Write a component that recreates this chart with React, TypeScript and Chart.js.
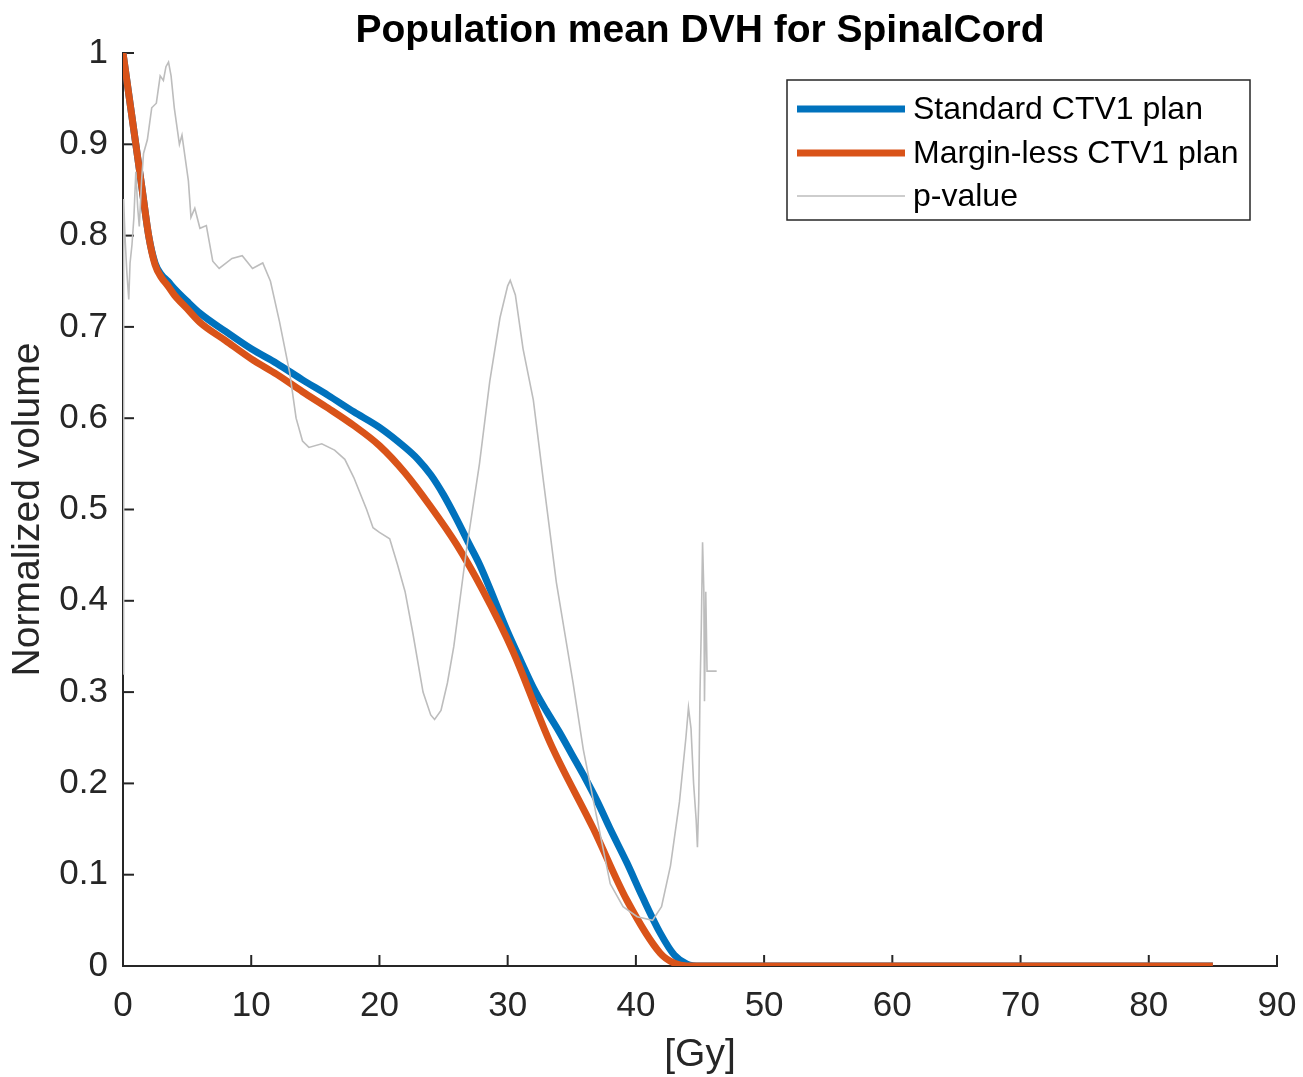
import React, { useEffect, useRef } from "react";
import { Chart, registerables } from "chart.js";

Chart.register(...registerables);

const chartTitle = "Population mean DVH for SpinalCord";
const xAxisTitle = "[Gy]";
const yAxisTitle = "Normalized volume";
const seriesNames = ["Standard CTV1 plan", "Margin-less CTV1 plan", "p-value"];
const seriesColors = ["#0072BD", "#D95319", "#bdbdbd"];

const xTicks = [0, 10, 20, 30, 40, 50, 60, 70, 80, 90];
const yTicks = [0, 0.1, 0.2, 0.3, 0.4, 0.5, 0.6, 0.7, 0.8, 0.9, 1];

const doseStandard = [0, 0.5, 1, 1.5, 2, 2.5, 3, 3.5, 4, 5, 6, 8, 10, 12, 14, 16, 18, 20, 22, 23, 24, 25, 26, 27, 27.8, 30, 31, 32, 33, 34, 35, 36, 37, 38, 39.3, 40.5, 41.9, 43, 44, 45, 50, 60, 70, 85];
const volStandard = [1, 0.95, 0.9, 0.85, 0.8, 0.77, 0.757, 0.75, 0.742, 0.728, 0.715, 0.695, 0.676, 0.66, 0.642, 0.625, 0.607, 0.59, 0.568, 0.555, 0.538, 0.516, 0.49, 0.462, 0.44, 0.366, 0.335, 0.305, 0.28, 0.257, 0.232, 0.207, 0.18, 0.15, 0.113, 0.076, 0.036, 0.012, 0.002, 0, 0, 0, 0, 0];

const doseMarginless = [0, 0.5, 1, 1.5, 2, 2.5, 3, 3.5, 4, 5, 6, 8, 10, 12, 14, 16, 18, 20, 22, 24, 26, 28, 30.4, 33.3, 36.7, 39.3, 41.9, 43, 44, 45, 50, 60, 70, 85];
const volMarginless = [1, 0.95, 0.9, 0.85, 0.8, 0.768, 0.754, 0.745, 0.735, 0.72, 0.705, 0.685, 0.665, 0.648, 0.629, 0.611, 0.592, 0.57, 0.54, 0.503, 0.462, 0.413, 0.345, 0.245, 0.15, 0.072, 0.014, 0.003, 0, 0, 0, 0, 0, 0];

const dosePValue = [0, 0.05, 0.15, 0.3, 0.45, 0.55, 0.7, 0.85, 1.0, 1.15, 1.27, 1.45, 1.6, 1.9, 2.24, 2.6, 2.9, 3.15, 3.35, 3.55, 3.75, 4.0, 4.4, 4.6, 5.1, 5.3, 5.6, 6.0, 6.5, 7.0, 7.5, 8.5, 9.3, 10.1, 10.9, 11.5, 12.2, 13.0, 13.5, 14.0, 14.5, 15.5, 16.5, 17.3, 18.0, 19.0, 19.5, 20.0, 20.8, 21.4, 22.0, 22.6, 23.4, 24.0, 24.3, 24.8, 25.3, 25.8, 26.8, 27.8, 28.6, 29.4, 30.0, 30.2, 30.6, 31.2, 32.0, 32.8, 33.8, 35.1, 35.9, 36.7, 38.0, 39.0, 40.1, 41.3, 42.0, 42.7, 43.4, 43.9, 44.1, 44.3, 44.5, 44.7, 44.8, 44.9, 45.0, 45.1, 45.2, 45.3, 45.35, 45.45, 45.55, 46.3];
const pValue = [0.32, 0.84, 0.8, 0.76, 0.73, 0.77, 0.79, 0.82, 0.87, 0.83, 0.81, 0.86, 0.89, 0.905, 0.94, 0.945, 0.975, 0.97, 0.985, 0.99, 0.975, 0.94, 0.9, 0.91, 0.86, 0.82, 0.83, 0.808, 0.811, 0.772, 0.764, 0.775, 0.778, 0.764, 0.77, 0.75, 0.706, 0.65, 0.6, 0.575, 0.568, 0.572, 0.565, 0.555, 0.535, 0.5, 0.48, 0.475, 0.468, 0.44, 0.41, 0.365, 0.3, 0.275, 0.27, 0.28, 0.31, 0.35, 0.457, 0.55, 0.64, 0.71, 0.745, 0.751, 0.735, 0.676, 0.62, 0.53, 0.42, 0.31, 0.237, 0.18, 0.09, 0.065, 0.054, 0.05, 0.065, 0.11, 0.18, 0.25, 0.283, 0.26, 0.2, 0.16, 0.13, 0.18, 0.3, 0.37, 0.464, 0.41, 0.29, 0.41, 0.323, 0.323];

const FONT = "'Liberation Sans', Arial, Helvetica, sans-serif";
const AXIS_COLOR = "#262626";

const toPoints = (xs: number[], ys: number[]) => xs.map((x, i) => ({ x, y: ys[i] }));

const inwardTicks = {
  id: "inwardTicks",
  beforeDatasetsDraw(chart: any) {
    const { ctx, chartArea, scales } = chart;
    ctx.save();
    ctx.strokeStyle = AXIS_COLOR;
    ctx.lineWidth = 2;
    const len = 11;
    scales.x.ticks.forEach((t: any) => {
      const px = scales.x.getPixelForValue(t.value);
      ctx.beginPath();
      ctx.moveTo(px, chartArea.bottom);
      ctx.lineTo(px, chartArea.bottom - len);
      ctx.stroke();
    });
    scales.y.ticks.forEach((t: any) => {
      const py = scales.y.getPixelForValue(t.value);
      ctx.beginPath();
      ctx.moveTo(chartArea.left, py);
      ctx.lineTo(chartArea.left + len, py);
      ctx.stroke();
    });
    ctx.restore();
  },
};

const axesTitle = {
  id: "axesTitle",
  afterDraw(chart: any) {
    const { ctx, chartArea } = chart;
    ctx.save();
    ctx.fillStyle = "#000000";
    ctx.font = `bold 39px ${FONT}`;
    ctx.textAlign = "center";
    ctx.textBaseline = "middle";
    ctx.fillText(chartTitle, (chartArea.left + chartArea.right) / 2, 31);
    ctx.restore();
  },
};

const boxLegend = {
  id: "boxLegend",
  afterDraw(chart: any) {
    const { ctx } = chart;
    const x0 = 787, y0 = 80, w = 463, h = 140;
    ctx.save();
    ctx.fillStyle = "#ffffff";
    ctx.fillRect(x0, y0, w, h);
    ctx.strokeStyle = AXIS_COLOR;
    ctx.lineWidth = 1.5;
    ctx.strokeRect(x0, y0, w, h);
    const rows = [109, 153, 196];
    chart.data.datasets.forEach((ds: any, i: number) => {
      const y = rows[i];
      ctx.strokeStyle = ds.borderColor;
      ctx.lineWidth = ds.borderWidth;
      ctx.beginPath();
      ctx.moveTo(797, y);
      ctx.lineTo(905, y);
      ctx.stroke();
      ctx.fillStyle = "#000000";
      ctx.font = `32px ${FONT}`;
      ctx.textBaseline = "middle";
      ctx.textAlign = "left";
      ctx.fillText(ds.label, 913, y + 1);
    });
    ctx.restore();
  },
};

export default function App() {
  const canvasRef = useRef<HTMLCanvasElement | null>(null);

  useEffect(() => {
    const canvas = canvasRef.current;
    if (!canvas) return;
    const chart = new Chart(canvas, {
      type: "line",
      data: {
        datasets: [
          {
            label: seriesNames[0],
            data: toPoints(doseStandard, volStandard),
            borderColor: seriesColors[0],
            borderWidth: 7,
            pointRadius: 0,
            cubicInterpolationMode: "monotone",
            fill: false,
            order: 3,
          },
          {
            label: seriesNames[1],
            data: toPoints(doseMarginless, volMarginless),
            borderColor: seriesColors[1],
            borderWidth: 7,
            pointRadius: 0,
            cubicInterpolationMode: "monotone",
            fill: false,
            order: 2,
          },
          {
            label: seriesNames[2],
            data: toPoints(dosePValue, pValue),
            borderColor: seriesColors[2],
            borderWidth: 1.6,
            pointRadius: 0,
            tension: 0,
            fill: false,
            order: 1,
          },
        ],
      } as any,
      options: {
        responsive: false,
        animation: false,
        devicePixelRatio: 1,
        layout: { padding: { top: 53, right: 26, bottom: 0, left: 0 } },
        plugins: {
          legend: { display: false },
          tooltip: { enabled: false },
          title: { display: false },
        },
        scales: {
          x: {
            type: "linear",
            min: 0,
            max: 90,
            afterBuildTicks: (scale: any) => {
              scale.ticks = xTicks.map((v) => ({ value: v }));
            },
            afterFit: (scale: any) => {
              scale.height = 111;
              scale.paddingLeft = 0;
              scale.paddingRight = 0;
            },
            grid: { display: false, drawTicks: false },
            border: { display: true, color: AXIS_COLOR, width: 2 },
            ticks: {
              color: AXIS_COLOR,
              font: { family: FONT, size: 35 },
              padding: 19,
              maxRotation: 0,
              autoSkip: false,
              callback: (v: any) => String(v),
            },
            title: {
              display: true,
              text: xAxisTitle,
              color: AXIS_COLOR,
              font: { family: FONT, size: 39 },
              padding: { top: 0, bottom: -2 },
            },
          },
          y: {
            type: "linear",
            min: 0,
            max: 1,
            afterBuildTicks: (scale: any) => {
              scale.ticks = yTicks.map((v) => ({ value: v }));
            },
            afterFit: (scale: any) => {
              scale.width = 123;
              scale.paddingTop = 0;
              scale.paddingBottom = 0;
            },
            grid: { display: false, drawTicks: false },
            border: { display: true, color: AXIS_COLOR, width: 2 },
            ticks: {
              color: AXIS_COLOR,
              font: { family: FONT, size: 35 },
              padding: 15,
              autoSkip: false,
              callback: (v: any) => String(v),
            },
            title: {
              display: true,
              text: yAxisTitle,
              color: AXIS_COLOR,
              font: { family: FONT, size: 39 },
              padding: { top: 5, bottom: 0 },
            },
          },
        },
      } as any,
      plugins: [inwardTicks, axesTitle, boxLegend],
    });
    return () => chart.destroy();
  }, []);

  return (
    <div style={{ position: "absolute", left: 0, top: 0, width: 1303, height: 1077, background: "#ffffff" }}>
      <canvas ref={canvasRef} width={1303} height={1077} style={{ display: "block" }} />
    </div>
  );
}
